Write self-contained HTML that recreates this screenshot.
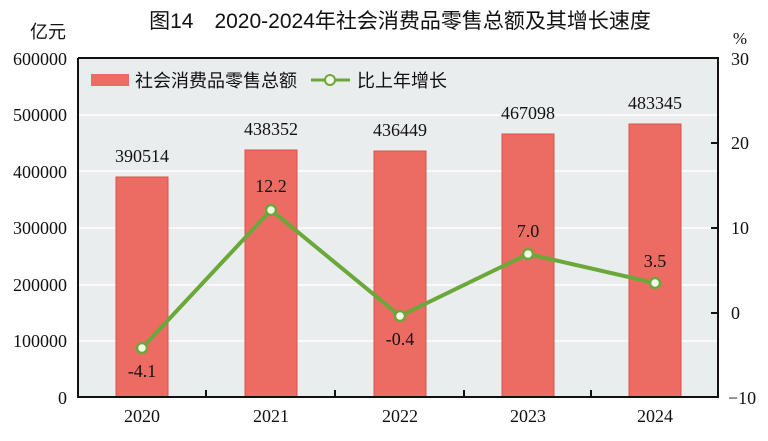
<!DOCTYPE html>
<html><head><meta charset="utf-8"><style>
body{margin:0;background:#fff;width:768px;height:436px;overflow:hidden}
svg text{font-family:"Liberation Serif","Noto Serif CJK SC",serif;fill:#111}
</style></head><body>
<svg width="768" height="436" viewBox="0 0 768 436">
<text x="400" y="28" text-anchor="middle" font-size="21" style="font-family:'Liberation Sans','Noto Sans CJK SC',sans-serif">图14　2020-2024年社会消费品零售总额及其增长速度</text>
<text x="66" y="38" text-anchor="end" font-size="18" style="font-family:'Liberation Sans','Noto Sans CJK SC',sans-serif">亿元</text>
<text x="740" y="44" text-anchor="middle" font-size="17">%</text>
<rect x="78" y="58" width="640" height="339" fill="#e9edee"/>
<g stroke="#fff" stroke-width="1.5">
<line x1="78" x2="718" y1="115" y2="115"/><line x1="78" x2="718" y1="171" y2="171"/><line x1="78" x2="718" y1="228" y2="228"/><line x1="78" x2="718" y1="285" y2="285"/><line x1="78" x2="718" y1="341" y2="341"/>
</g>
<g fill="#ec6c64" stroke="#d9524a" stroke-width="1">
<rect x="116" y="177" width="52" height="220"/>
<rect x="245" y="150" width="52" height="247"/>
<rect x="374" y="151" width="52" height="246"/>
<rect x="502" y="134" width="52" height="263"/>
<rect x="629" y="124" width="52" height="273"/>
</g>
<path d="M78 58V397H718V58H78" fill="none" stroke="#111" stroke-width="2"/>
<g stroke="#111" stroke-width="2">
<line x1="206" x2="206" y1="397" y2="390"/><line x1="335" x2="335" y1="397" y2="390"/><line x1="464" x2="464" y1="397" y2="390"/><line x1="591" x2="591" y1="397" y2="390"/>
<line x1="718" x2="711" y1="143" y2="143"/><line x1="718" x2="711" y1="228" y2="228"/><line x1="718" x2="711" y1="313" y2="313"/>
</g>
<g font-size="18" text-anchor="end">
<text x="67" y="65">600000</text><text x="67" y="121">500000</text><text x="67" y="178">400000</text><text x="67" y="234">300000</text><text x="67" y="291">200000</text><text x="67" y="347">100000</text><text x="67" y="404">0</text>
</g>
<g font-size="18" text-anchor="start">
<text x="731" y="65">30</text><text x="731" y="149">20</text><text x="731" y="234">10</text><text x="731" y="319">0</text><text x="728" y="404">−10</text>
</g>
<g font-size="18" text-anchor="middle">
<text x="142" y="422">2020</text><text x="271" y="422">2021</text><text x="400" y="422">2022</text><text x="528" y="422">2023</text><text x="655" y="422">2024</text>
<text x="142" y="162">390514</text><text x="271" y="135">438352</text><text x="400" y="136">436449</text><text x="528" y="119">467098</text><text x="655" y="109">483345</text>
</g>
<polyline points="142,348 271,210 400,316 528,254 655,283" fill="none" stroke="#6aa83a" stroke-width="4"/>
<g fill="#f4fbe6" stroke="#6aa83a" stroke-width="2.5">
<circle cx="142" cy="348" r="5"/><circle cx="271" cy="210" r="5"/><circle cx="400" cy="316" r="5"/><circle cx="528" cy="254" r="5"/><circle cx="655" cy="283" r="5"/>
</g>
<g font-size="18" text-anchor="middle">
<text x="142" y="377">-4.1</text><text x="271" y="192">12.2</text><text x="400" y="345">-0.4</text><text x="528" y="237">7.0</text><text x="655" y="267">3.5</text>
</g>
<rect x="91" y="74" width="38" height="12" fill="#ec6c64"/>
<text x="135" y="87" font-size="18" style="font-family:'Liberation Sans','Noto Sans CJK SC',sans-serif">社会消费品零售总额</text>
<line x1="311" x2="350" y1="80" y2="80" stroke="#6aa83a" stroke-width="3"/>
<circle cx="330" cy="80" r="5" fill="#f4fbe6" stroke="#6aa83a" stroke-width="2"/>
<text x="357" y="87" font-size="18" style="font-family:'Liberation Sans','Noto Sans CJK SC',sans-serif">比上年增长</text>
</svg>
</body></html>
